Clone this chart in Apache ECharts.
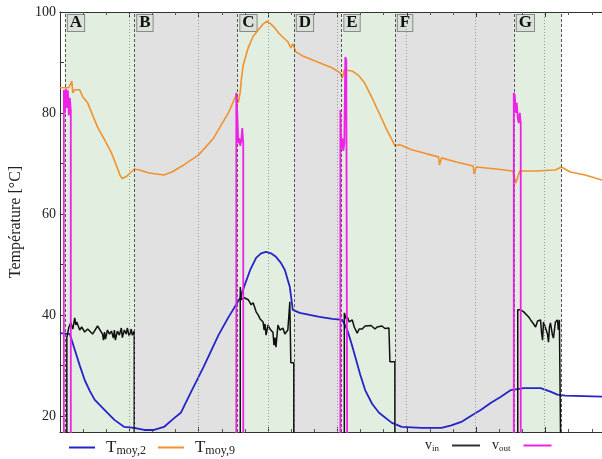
<!DOCTYPE html>
<html><head><meta charset="utf-8">
<script src="https://cdn.jsdelivr.net/npm/echarts@6/dist/echarts.min.js"></script>
<style>html,body{margin:0;padding:0;background:#fff}#c{width:602px;height:459px}</style>
</head><body><div id="c"></div>
<script>
// time axis: arbitrary units (no labels in original)
const xMin = 0, xMax = 547;
const yMin = 16.8, yMax = 100;
const yTickLabels = [20, 40, 60, 80, 100];
const yTicks = [20, 30, 40, 50, 60, 70, 80, 90, 100];
const xGrid = [70, 140, 210, 280, 349, 419, 489];

// T_moy,9 (orange)
const tMoy9 = [[0,85.0],[3,85.0],[5,84.8],[9,85.0],[11,84.8],[12,86.3],[13,84.0],[15,84.6],[20,84.6],[23,83.2],[28,82.0],[38,77.2],[45,74.7],[52,72.1],[58,69.1],[61,67.5],[63,67.0],[67,67.4],[72,68.3],[75,68.9],[80,68.7],[90,68.1],[105,67.7],[113,68.3],[125,69.7],[140,71.7],[155,75.0],[170,80.0],[178,83.6],[180,82.0],[182,84.2],[183,86.5],[185,89.5],[190,92.9],[195,95.2],[200,96.4],[205,97.6],[209,98.2],[213,97.6],[217,96.8],[221,95.8],[225,95.0],[230,94.1],[233,92.9],[235,93.7],[238,92.1],[245,91.3],[260,90.1],[275,88.9],[283,87.9],[285,86.9],[287,88.5],[295,88.3],[301,87.5],[307,86.1],[315,83.0],[323,79.6],[330,76.6],[335,74.7],[338,73.5],[343,73.7],[355,72.7],[370,71.9],[382,71.3],[383,69.7],[385,71.1],[400,70.3],[417,69.5],[418,67.9],[420,69.3],[440,68.9],[457,68.5],[460,66.1],[464,68.5],[480,68.5],[500,68.7],[506,69.3],[515,68.3],[530,67.7],[547,66.7]];

// T_moy,2 (blue)
const tMoy2 = [[0,36.4],[10,36.2],[15,33.1],[20,30.0],[25,27.1],[30,25.0],[35,23.2],[45,21.2],[55,19.2],[65,17.8],[75,17.6],[85,17.2],[95,17.2],[105,17.8],[115,19.5],[122,20.6],[132,24.6],[145,29.7],[160,36.0],[170,39.5],[182,43.4],[187,46.2],[192,48.9],[198,51.3],[203,52.2],[208,52.5],[213,52.2],[218,51.5],[223,50.3],[227,48.9],[232,45.5],[235,41.0],[242,40.4],[262,39.6],[275,39.2],[285,39.0],[290,37.0],[294,34.5],[298,31.7],[303,28.2],[308,25.1],[315,22.4],[322,20.6],[335,18.6],[345,17.8],[365,17.6],[385,17.6],[395,18.1],[405,18.8],[415,20.0],[425,21.2],[435,22.6],[445,23.8],[455,25.1],[468,25.5],[485,25.5],[495,24.8],[502,24.2],[510,24.0],[547,23.8]];

// v_in (black)
const vIn = [[0,0],[7,0],[7,35.5],[9,37.5],[11,38.5],[13,37.2],[15,39.4],[16,38.0],[17,38.6],[20,37.0],[22,37.6],[25,36.6],[28,37.2],[30,36.9],[33,36.2],[35,36.5],[38,37.8],[40,37.5],[43,36.2],[44,35.0],[45,36.6],[46,35.2],[48,37.0],[50,36.2],[52,36.8],[54,35.4],[55,37.0],[56,35.0],[58,36.8],[60,36.0],[62,37.4],[63,35.5],[65,37.0],[67,36.2],[68,37.4],[70,35.8],[72,37.2],[73,36.0],[75,36.8],[75,0],
  [182,0],[182,45.5],[183,43.0],[186,43.4],[190,43.0],[193,42.0],[195,42.4],[198,40.6],[200,40.0],[202,39.2],[205,38.6],[206,37.0],[207,38.2],[208,36.0],[210,38.0],[212,37.2],[215,36.5],[216,34.0],[217,35.5],[218,33.6],[220,38.0],[222,37.0],[225,37.4],[227,36.2],[230,37.0],[232,42.6],[233,30.5],[236,30.5],[236,0],
  [287,0],[287,40.4],[289,39.2],[290,39.6],[292,38.6],[295,39.0],[297,37.6],[300,36.4],[302,37.2],[305,37.2],[308,37.8],[310,37.6],[314,37.9],[318,37.2],[320,37.6],[325,37.8],[328,37.3],[332,37.4],[333,30.7],[338,30.7],[338,0],
  [462,0],[462,41.0],[465,41.0],[468,40.6],[470,40.4],[473,39.6],[475,39.0],[478,38.2],[480,37.6],[482,38.8],[485,39.0],[486,36.5],[487,35.0],[488,38.6],[490,38.4],[492,36.2],[493,34.6],[494,37.6],[495,38.4],[497,36.0],[498,35.4],[500,38.6],[502,39.0],[503,37.0],[504,39.0],[506,39.0],[506,0],[547,0]];

// v_out (magenta)
const vOut = [[0,0],[4,0],[4,84.6],[5,80.0],[6,84.8],[7,81.0],[8,84.5],[9,79.5],[10,83.0],[11,80.5],[11,0],
  [178,0],[178,84.0],[179,80.0],[180,74.0],[181,75.0],[182,73.5],[183,74.5],[184,77.0],[185,74.0],[185,0],
  [283,0],[283,80.6],[284,73.0],[285,75.0],[286,72.5],[287,74.0],[288,91.1],[289,90.5],[290,90.5],[290,0],
  [458,0],[458,84.0],[459,83.5],[460,80.0],[461,82.0],[462,79.0],[463,78.0],[464,80.0],[465,78.0],[465,0],[547,0]];

// phases
const phaseLabels = ['A','B','C','D','E','F','G'];
const phaseStart  = [5, 75, 179, 236, 284, 338, 458];
const phaseEnd    = [75, 179, 236, 284, 338, 458, 506];
const phaseKind   = ['on','off','on','off','on','off','on'];
const boundaries  = [5, 75, 179, 236, 284, 338, 458, 506];

const FONT = 'Liberation Serif';
const regionColor = {on:'#e2eee0', off:'#e1e1e1'};

const chart = echarts.init(document.getElementById('c'), null, {renderer:'canvas'});

const markAreaData = phaseLabels.map((l,i)=>[
  {name:l, xAxis: phaseStart[i], itemStyle:{color: regionColor[phaseKind[i]]}},
  {xAxis: phaseEnd[i]}
]);

const rich = {
  a:{fontFamily:FONT,fontSize:17,color:'#222',lineHeight:18},
  b:{fontFamily:FONT,fontSize:12,color:'#222',lineHeight:18,padding:[7,0,0,0]},
  c:{fontFamily:FONT,fontSize:14,color:'#222',lineHeight:18},
  d:{fontFamily:FONT,fontSize:9,color:'#222',lineHeight:18,padding:[6,0,0,0]}
};
const legendFmt = n => ({
  'Tmoy,2':'{a|T}{b|moy,2}',
  'Tmoy,9':'{a|T}{b|moy,9}',
  'vin':'{c|v}{d|in}',
  'vout':'{c|v}{d|out}'
})[n];

const xAxisCommon = {
  type:'value', min:xMin, max:xMax, interval:70,
  axisLine:{show:true,onZero:false,lineStyle:{color:'#333',width:1}},
  axisTick:{show:true,inside:true,length:5,lineStyle:{color:'#333'}},
  minorTick:{show:true,splitNumber:3,length:3,lineStyle:{color:'#555'}},
  axisLabel:{show:false},
  splitLine:{show:false},
  z:3
};

const gridLines = xGrid.map(v=>({xAxis:v, lineStyle:{color:'#9a9a9a',type:[1,2],width:1}}));
const boundLines = boundaries.map(v=>({xAxis:v, lineStyle:{color:'#555',type:[3,2],width:1}}));

chart.setOption({
  animation:false,
  backgroundColor:'#fff',
  grid:{left:55, right:0, top:12, bottom:27, containLabel:false},
  legend:[
    {data:['Tmoy,2','Tmoy,9'], left:64, top:433, itemWidth:26, itemHeight:2, icon:'rect', itemGap:12,
     formatter:legendFmt, textStyle:{rich:rich, padding:[0,0,0,6]}, selectedMode:false},
    {data:['vin','vout'], left:420, top:433, itemWidth:28, itemHeight:2, icon:'rect', itemGap:12, align:'right',
     formatter:legendFmt, textStyle:{rich:rich, padding:[0,8,0,0]}, selectedMode:false}
  ],
  xAxis:[
    Object.assign({}, xAxisCommon, {position:'bottom'}),
    Object.assign({}, xAxisCommon, {position:'top'})
  ],
  yAxis:{
    type:'value', min:yMin, max:yMax,
    name:'Température [°C]', nameLocation:'middle', nameRotate:90, nameGap:30,
    nameTextStyle:{fontFamily:FONT,fontSize:16,color:'#222'},
    axisLine:{show:true,lineStyle:{color:'#333'}},
    axisTick:{show:true,inside:true,length:4,customValues:yTicks,lineStyle:{color:'#333'}},
    axisLabel:{show:true,customValues:yTickLabels,fontFamily:FONT,fontSize:14,color:'#222',margin:4},
    splitLine:{show:false},
    z:3
  },
  series:[
    {name:'phases', type:'line', data:[], z:0.5, silent:true,
     markArea:{silent:true, data:markAreaData,
       label:{show:true, position:'insideTopLeft', distance:3, formatter:'{b}',
         fontFamily:FONT, fontWeight:'bold', fontSize:17, color:'#111',
         backgroundColor:'#d9e2d8', borderColor:'#8a8a8a', borderWidth:1, padding:[0,2,0,2], lineHeight:16}},
     markLine:{silent:true, symbol:'none', label:{show:false},
       data: gridLines.concat(boundLines)}
    },
    {name:'Tmoy,2', type:'line', data:tMoy2, showSymbol:false, symbol:'none', z:3,
     lineStyle:{color:'#2424c8',width:1.8}, itemStyle:{color:'#2424c8'}},
    {name:'Tmoy,9', type:'line', data:tMoy9, showSymbol:false, symbol:'none', z:3,
     lineStyle:{color:'#f0922e',width:1.6}, itemStyle:{color:'#f0922e'}},
    {name:'vin', type:'line', data:vIn, showSymbol:false, symbol:'none', z:4, clip:true,
     lineStyle:{color:'#111',width:1.5}, itemStyle:{color:'#333'}},
    {name:'vout', type:'line', data:vOut, showSymbol:false, symbol:'none', z:5, clip:true,
     lineStyle:{color:'#ee22e6',width:1.8}, itemStyle:{color:'#ee22e6'}}
  ]
});
</script></body></html>
